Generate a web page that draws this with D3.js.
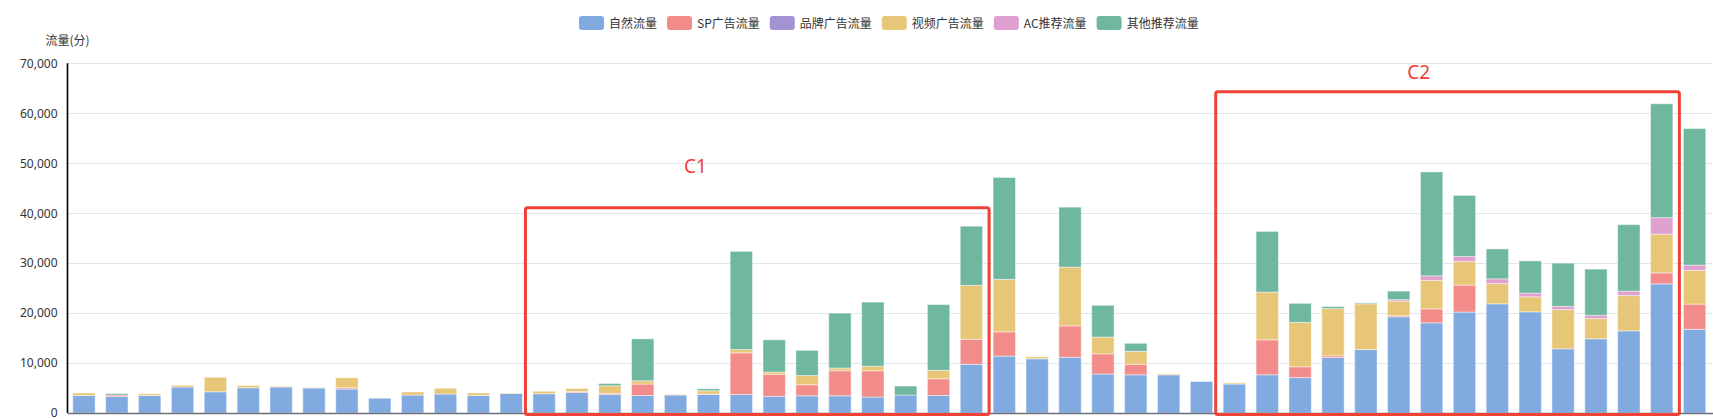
<!DOCTYPE html>
<html><head><meta charset="utf-8">
<script src="https://cdn.jsdelivr.net/npm/d3@7/dist/d3.min.js"></script>
<style>
html,body{margin:0;padding:0;background:#fff;}
svg{display:block;font-family:"Noto Sans CJK SC","Noto Sans",sans-serif;}
</style></head>
<body>
<svg id="chart" width="1713" height="419"></svg>
<script>
const categories = ["03-01","03-02","03-03","03-04","03-05","03-06","03-07","03-08","03-09","03-10",
"03-11","03-12","03-13","03-14","03-15","03-16","03-17","03-18","03-19","03-20",
"03-21","03-22","03-23","03-24","03-25","03-26","03-27","03-28","03-29","03-30",
"03-31","04-01","04-02","04-03","04-04","04-05","04-06","04-07","04-08","04-09",
"04-10","04-11","04-12","04-13","04-14","04-15","04-16","04-17","04-18","04-19"];
const seriesNames = ["自然流量","SP广告流量","品牌广告流量","视频广告流量","AC推荐流量","其他推荐流量"];
const seriesColors = ["#80aae0","#f28c8a","#a592d2","#e8c677","#df9fcf","#6fb89f"];
const natural = [3500,3300,3500,5200,4250,5050,5200,5000,4800,2950,3600,3800,3500,3900,3850,4100,3700,3500,3600,3700,
3700,3350,3450,3450,3200,3600,3500,9750,11400,10850,11150,7800,7650,7650,6300,5800,7650,7100,11100,12700,
19250,18050,20200,21850,20250,12850,14850,16450,25850,16750];
const spAds = [0,300,0,0,0,0,0,0,250,0,0,0,0,0,0,200,250,2300,0,100,
8350,4400,2200,5000,5250,0,3350,5000,4850,0,6300,4050,2100,0,0,0,7000,2150,350,0,
250,2800,5400,0,0,0,0,0,2200,5050];
const brandAds = [0,0,0,0,0,0,0,0,0,0,0,0,0,0,0,0,0,0,0,0,0,0,0,0,0,0,0,0,0,0,0,0,0,0,0,0,0,0,0,0,0,0,0,0,0,0,0,0,0,0];
const videoAds = [500,0,350,350,2900,450,150,100,2000,0,600,1150,500,100,500,600,1500,650,100,650,
650,450,1850,550,900,0,1700,10800,10500,400,11750,3350,2600,200,0,250,9550,8900,9450,9150,
2900,5700,4750,4050,3000,7850,4050,7050,7750,6750];
const acRec = [0,0,0,0,0,0,0,0,0,0,0,0,0,0,0,0,0,0,0,0,0,0,0,0,0,0,0,0,0,0,0,0,0,0,0,0,0,0,0,0,
300,900,1000,950,750,650,650,900,3300,1050];
const otherRec = [0,300,0,0,0,0,0,0,0,0,0,0,0,0,0,0,450,8400,0,400,
19650,6450,5050,11000,12850,1800,13150,11850,20400,0,12000,6350,1600,0,0,0,12150,3800,400,200,
1700,20800,12200,6000,6450,8650,9250,13300,22800,27350];
const yTicks = [0,10000,20000,30000,40000,50000,60000,70000];
const yAxisName = "流量(分)";
const boxLabels = ["C1","C2"];
const boxFrom = [14,35];
const boxTo = [27,48];
const boxTop = [41100,64300];
const boxLabelCat = [19,41];
const boxLabelValue = [48000,66800];

const allSeries = [natural, spAds, brandAds, videoAds, acRec, otherRec];
const table = categories.map((c,i)=>{const o={cat:c}; seriesNames.forEach((n,k)=>o[n]=allSeries[k][i]); return o;});
const stacked = d3.stack().keys(seriesNames)(table);

const svg = d3.select("#chart");
const L = 67.5, R = 1711, T = 63.3, B = 413;
const x = d3.scaleBand().domain(categories).range([L,R]).paddingInner(0.32).paddingOuter(0.16);
const y = d3.scaleLinear().domain([0,70000]).range([B,T]);

// grid
svg.append("g").selectAll("line").data(yTicks.slice(1)).join("line")
  .attr("x1",L).attr("x2",1712).attr("y1",d=>Math.round(y(d))+0.5).attr("y2",d=>Math.round(y(d))+0.5)
  .attr("stroke","#e0e6f1").attr("stroke-width",1);

// bars
svg.append("g").selectAll("g").data(stacked).join("g")
  .attr("fill",(d,i)=>seriesColors[i])
  .selectAll("rect").data(d=>d.filter(p=>p[1]-p[0]>0)).join("rect")
  .attr("x",d=>x(d.data.cat)).attr("width",x.bandwidth())
  .attr("y",d=>y(d[1])).attr("height",d=>y(d[0])-y(d[1]))
  .attr("stroke","#ffffff").attr("stroke-opacity",0.45).attr("stroke-width",1);

// y axis
const yAxis = d3.axisLeft(y).tickValues(yTicks).tickFormat(d3.format(",")).tickSize(0).tickPadding(10);
const yg = svg.append("g").attr("transform",`translate(${L},0)`).call(yAxis);
yg.select(".domain").remove();
yg.selectAll("text").attr("fill","#333").attr("font-size",12).attr("font-family","'Noto Sans','DejaVu Sans',sans-serif");
svg.append("line").attr("x1",L).attr("x2",L).attr("y1",T).attr("y2",B).attr("stroke","#000").attr("stroke-width",1.6);
svg.append("text").attr("x",L).attr("y",44.5).attr("text-anchor","middle").attr("font-size",12).attr("fill","#333").text(yAxisName);

// x axis (labels rotated, largely below the visible area as in the reference)
const xAxis = d3.axisBottom(x).tickSize(0).tickPadding(0);
const xg = svg.append("g").attr("transform",`translate(0,${B})`).call(xAxis);
xg.select(".domain").remove();
xg.selectAll("text").attr("fill","#6e7079").attr("font-size",12)
  .attr("text-anchor","end").attr("dy",0).attr("y",0)
  .attr("transform","translate(4,16) rotate(-45)");
svg.append("line").attr("x1",L).attr("x2",1713).attr("y1",B+0.5).attr("y2",B+0.5).attr("stroke","#6e7079").attr("stroke-width",1.5);

// annotation boxes
boxLabels.forEach((lab,k)=>{
  const x0 = x(categories[boxFrom[k]]) - 7.5;
  const x1 = x(categories[boxTo[k]]) + x.bandwidth() + 6.5;
  const y0 = y(boxTop[k]), y1 = y(0)+1.5;
  svg.append("rect").attr("x",x0).attr("y",y0).attr("width",x1-x0).attr("height",y1-y0)
    .attr("rx",2).attr("fill","none").attr("stroke","#ee4237").attr("stroke-width",3);
  svg.append("text").attr("x",x(categories[boxLabelCat[k]]) + x.bandwidth()/2 - 13).attr("y",y(boxLabelValue[k]))
    .attr("text-anchor","middle")
    .attr("font-size",19).attr("fill","#ee4237").attr("font-family","'Noto Sans','DejaVu Sans',sans-serif").text(lab);
});

// legend
let lx = 579;
const leg = svg.append("g");
seriesNames.forEach((n,i)=>{
  leg.append("rect").attr("x",lx).attr("y",16).attr("width",25).attr("height",14).attr("rx",3).attr("fill",seriesColors[i]);
  const t = leg.append("text").attr("x",lx+30).attr("y",27.5).attr("font-size",12).attr("fill","#333").text(n);
  lx += 30 + t.node().getComputedTextLength() + 10;
});
</script>
</body></html>
